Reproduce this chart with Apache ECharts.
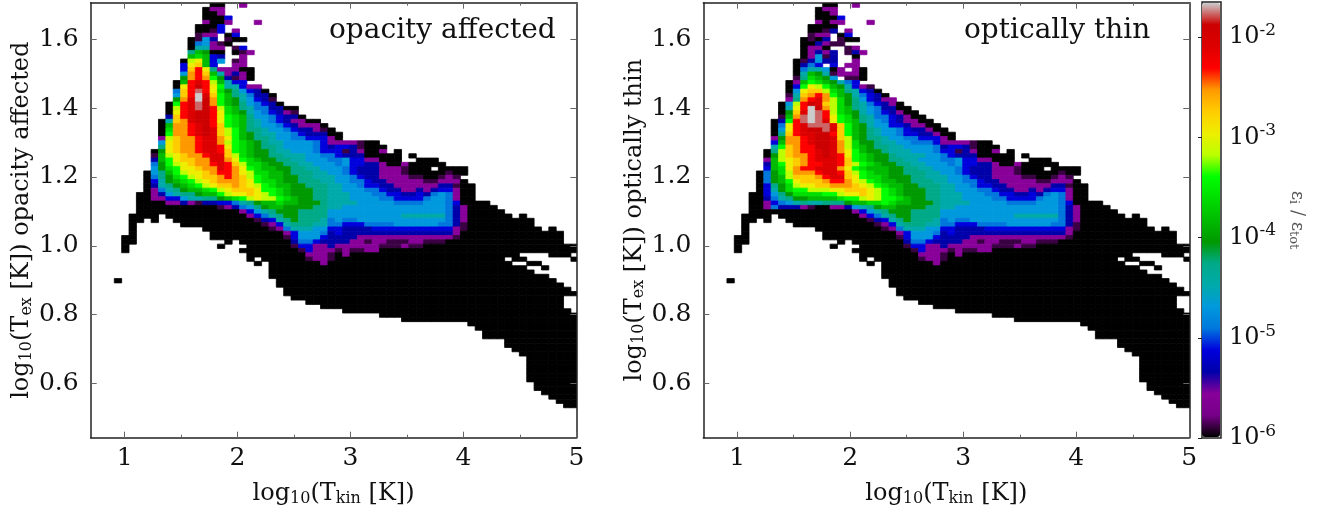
<!DOCTYPE html>
<html>
<head>
<meta charset="utf-8">
<script src="https://cdn.jsdelivr.net/npm/echarts@6/dist/echarts.min.js"></script>
<style>html,body{margin:0;background:#fff}#main{width:1323px;height:514px}</style>
</head>
<body>
<div id="main"></div>
<script>
// cell levels: . empty, 0 black ... k grey, "c*n" repeats c
const leftRows = [
'.*13 00..2','.*12 022','.*12 002','.*12 0004','.*12 2002...2','.*11 0004','.*11 00x4.2','.*11 x22.04',
'.*10 0x63.x00','.*10 0562x0','.*10 07722.x4','.*10 8a900.0x2','.*10 aba43..2','.*9 0dea46.x2','.*9 4efa4..22',
'.*9 4fhe822200','.*9 6ghfa72320','.*9 9ghgc93x20','.*8 0ahihda744','.*8 0ehjhec77422','.*8 5fhmheb986430',
'.*8 6fhkifca875330','.*8 9gikjgca97643x','.*7 0chimjgca9865430','.*7 0dhimjhdba87553300','.*7 0ehijjheba9765432x',
'.*7 3fhijjhecba86654330','.*6 07fgijjhecba8765432200','.*6 0agghijhfcba87665432220','.*6 0bgghijifdca8876654332x0',
'.*6 0cgghijifdca9877665433300','.*6 2dfgghiigeca9887665544420',
'.*6 6efgghiigdcba98776 66654 2222x 00','.*6 8efgghiihecba98876 66654 3443x 000',
'.*5 0 9efgghiihfcba99877 66654 44x32 002.0','.*5 x adefgghiifdba99887 77665 54333 00000.0',
'.*5 3 aceffggiigecba9988 77666 55644 22000 ..000','.*5 5 9cdefgghihfdbba998 87766 65644 33200 200000',
'.*5 6 9bceefggihgecbaa99 88776 66543 33222 x000.0000','.*4 0 6 8acdeefghhgedbbaa9 88877 66543 33222 x00000x00',
'.*4 0 5 89bcdeffghgfdcbaa9 98877 76654 33222 2xx00x2x.','.*4 0 4 79abcdefgggfecbba9 98887 76655 43322 222xx2220',
'.*4 0 3 789abcdeffgfedcbaa 99888 77665 44332 2222233x00','.*4 0 2 5789aabcdefffeccba 99988 77666 55433 2232344200',
'.*3 00 2 367889aacdeefedcba 99988 77766 65544 3343565200','.*3 00 2 244677889abcdeddcb a9988 77766 66554 4445665200',
'.*3 0000 2232x33445789aaba a9998 77776 66665 55566 6540000','.*3 0*11 x235689aa9 99988 77666 66666 66666 65320000'
];
const rightRows = [
'.*13 00..2','.*12 022','.*12 002','.*12 0004','.*12 2022...2','.*11 0000','.*11 00x3.2','.*11 x22.04',
'.*10 0x03.x00','.*10 0032xx','.*10 0220..x2','.*10 02323.x32','.*10 026x3..0','.*9 0x3633..2','.*9 0354.4.22',
'.*9 05776 02.20','.*9 07a97x2220','.*9 x8ba96.xx0','.*8 02acba9754','.*8 04cedca9742x','.*8 06effdba87430',
'.*8 x7fghgca975430','.*8 28ghigdb986432 2','.*7 06dhjifdb98754320','.*7 07ehkjgdba87653300','.*7 09fikmhdba9765432 00',
'.*7 xagmkmhecb98755432 00','.*6 03chmkmiecba87654322 00','.*6 05ehimmmifca976644322 00','.*6 06ehijjmifca987665433200',
'.*6 08fhiijjhfca9876654433 200','.*6 29gghijjifda98876655444 20',
'.*6 4agghijjigdb998776 65554 2222x 00','.*6 7cfghhjjigdba98877 66665 3443x 000',
'.*5 0 8dfghhijigeca99877 76665 44x32 002.0','.*5 0 9dfgghijihecba9987 77766 54333 00000.0',
'.*5 2 adefghiiihfcba9988 77666 55644 22000 ..000','.*5 3 acefghhiihfdcba998 87766 65644 33200 200000',
'.*5 4 abeghhiiigecbaaa99 88776 66543 33222 x000.0000','.*4 0 5 9bdggghiihfdcbaa99 88877 66543 33222 x00000x00',
'.*4 0 5 9adfffghiifecbba99 98877 76654 33222 2xx00x2x.','.*4 0 5 9acefffghhgedcbaa9 98887 76655 43322 222xx2220',
'.*4 0 4 89bdeeffgggfedcbaa 99888 77665 44332 2222233x00','.*4 0 4 79bccdddeefffedcba 99988 77666 55433 2232344200',
'.*3 00 4 689bbbbccdeefedcba 99988 77766 65544 3343565200','.*3 00 3 57899aaaabccdedccb a9988 77766 66554 4445665200',
'.*3 00 2 45678778889aabbcba a9998 77776 66665 55566 6540000','.*3 00 2 53332x002236789aa9 99988 77666 66666 66666 65320000'
];
const lowerRows = [
'.*3 0*14 2467899 98888 66666 66666 66666 65320 0000',
'.*2 0000. 0*11 245789 98888 66666 66666 77777 75320 00000.0',
'.*2 00.0.. 0*11 x3478 98887 56556 66666 66666 65320 0*8',
'.*2 0...... 0*11 x247 88877 55444 55556 66666 553x0 0*8',
'.*2 0 .*9 0*9 x25 77766 44333 34444 44444 442x0 0*9 .0',
'.*2 0 .*10 0*10 2 46665 34333 33333 33333 33200 0*12',
'.00 .*10 0*10 x 46664 33332 22222 22222 22x00 0*12',
'.00 .*12 0.0*7 35543 33322 x22xx x22xx x0000 0*12 ..',
'.0 .*12 0... 0*6 x4422 32222 22xxx 2xx00 0*19',
'.0 .*15 0 0*7 x422 2x2xx 22 0*27',
'.*18 0*8 222x02 0*23 .... 000.',
'.*18 0.0*6 x22x 0*23 .00...... 0',
'.*19 0.0*7 2 0*25 ..00.....',
'.*21 0*35 ..0....','.*21 0*36','.*21 0*38','0 .*21 0*38','.*22 0*39','.*23 0*39','.*23 0*40','.*24 0*37',
'.*26 0*35','.*28 0*33','.*31 0*31','.*36 0*27','.*39 0*24','.*48 0*15','.*49 0*14','.*50 0*13','.*50 0*13',
'.*53 0*10','.*53 0*10','.*54 0*9','.*55 0*8','.*56 0*7','.*56 0*7','.*56 0*7','.*56 0*7','.*56 0*7','.*56 0*7',
'.*57 0*6','.*57 0*6','.*58 0*5','.*59 0*4','.*60 0*3','.*61 0*2'
];
const spectral = ['#000000','#770088','#880099','#0000aa','#0000dd','#0077dd','#0099dd','#00aaaa','#00aa88','#009900',
'#00bb00','#00dd00','#00ff00','#bbff00','#eeee00','#ffcc00','#ff9900','#ff0000','#dd0000','#cc0000','#cccccc'];
const levelChars = '0123456789abcdefghijk';
const xTicks = [1, 2, 3, 4, 5];
const xMinor = [1.5, 2.5, 3.5, 4.5];
const yTicks = [0.6, 0.8, 1.0, 1.2, 1.4, 1.6];
const barTicks = [-6, -5, -4, -3, -2];

const binX0 = 0.909, binW = 0.0652, binY0 = 0.53, binH = 0.0125, topRow = 93;
const logMin = -6, logMax = -1.65;

function levelToLog(ch) {
    let t = levelChars.indexOf(ch) * 0.05;
    if (ch === 'x') t = 0.025;
    if (ch === 'm') t = 0.975;
    return logMin + t * (logMax - logMin);
}
function buildCells(rows) {
    const cells = [];
    rows.forEach(function (row, r) {
        const line = row.replace(/(.)\*(\d+)/g, function (m, c, n) { return c.repeat(+n); }).replace(/\s/g, '');
        for (let c = 0; c < line.length; c++) {
            if (line[c] === '.') continue;
            cells.push([binX0 + c * binW, binY0 + (topRow - r) * binH, levelToLog(line[c])]);
        }
    });
    return cells;
}
function renderCell(params, api) {
    const a = api.coord([api.value(0), api.value(1) + binH]);
    const b = api.coord([api.value(0) + binW, api.value(1)]);
    const color = api.visual('color');
    return {
        type: 'rect',
        shape: { x: a[0], y: a[1], width: b[0] - a[0], height: b[1] - a[1] },
        style: { fill: color, stroke: color, lineWidth: 0.8 }
    };
}

const serif = '"DejaVu Serif"';
const ink = '#111';
const spine = { show: true, onZero: false, lineStyle: { color: '#222', width: 1.5 } };
const tickLine = { color: '#666', width: 1 };

function xAxes(g) {
    const base = { gridIndex: g, type: 'value', min: 0.7, max: 5, splitLine: { show: false }, axisLine: spine, z: 6 };
    return [
        Object.assign({}, base, {
            position: 'bottom',
            name: 'log{s|10}(T{s|kin} [K])',
            nameLocation: 'middle', nameGap: 44,
            nameTextStyle: { fontFamily: serif, fontSize: 24, color: ink, rich: { s: { fontFamily: serif, fontSize: 16, color: ink, padding: [9, 0, 0, 0] } } },
            axisTick: { inside: true, length: 6, lineStyle: tickLine, customValues: xTicks },
            axisLabel: { margin: 8, fontFamily: serif, fontSize: 25, color: ink, customValues: xTicks, formatter: '{value}' }
        }),
        Object.assign({}, base, { position: 'top', axisLabel: { show: false }, axisTick: { inside: true, length: 6, lineStyle: tickLine, customValues: xTicks } }),
        Object.assign({}, base, { position: 'bottom', axisLine: { show: false }, axisLabel: { show: false }, axisTick: { inside: true, length: 3, lineStyle: tickLine, customValues: xMinor } }),
        Object.assign({}, base, { position: 'top', axisLine: { show: false }, axisLabel: { show: false }, axisTick: { inside: true, length: 3, lineStyle: tickLine, customValues: xMinor } })
    ];
}
function yAxes(g, label) {
    const base = { gridIndex: g, type: 'value', min: 0.443, max: 1.706, splitLine: { show: false }, axisLine: spine, z: 6 };
    return [
        Object.assign({}, base, {
            position: 'left',
            name: label,
            nameLocation: 'middle', nameGap: 56,
            nameTextStyle: { fontFamily: serif, fontSize: 24, color: ink, rich: { s: { fontFamily: serif, fontSize: 16, color: ink, padding: [9, 0, 0, 0] } } },
            axisTick: { inside: true, length: 6, lineStyle: tickLine, customValues: yTicks },
            axisLabel: { margin: 12, fontFamily: serif, fontSize: 25, color: ink, customValues: yTicks, formatter: function (v) { return v.toFixed(1); } }
        }),
        Object.assign({}, base, { position: 'right', axisLabel: { show: false }, axisTick: { inside: true, length: 6, lineStyle: tickLine, customValues: yTicks } })
    ];
}

const chart = echarts.init(document.getElementById('main'));
chart.setOption({
    animation: false,
    backgroundColor: '#fff',
    title: [
        { text: 'opacity affected', left: 329, top: 17, padding: 0, textStyle: { fontFamily: serif, fontSize: 28, fontWeight: 'normal', color: ink } },
        { text: 'optically thin', left: 964, top: 17, padding: 0, textStyle: { fontFamily: serif, fontSize: 28, fontWeight: 'normal', color: ink } }
    ],
    grid: [
        { left: 90.7, top: 2.7, width: 485.7, height: 435 },
        { left: 703.3, top: 2.7, width: 486, height: 435 },
        { left: 1202, top: 2, width: 19, height: 436, show: true, borderColor: '#222', borderWidth: 1.5, backgroundColor: 'transparent' }
    ],
    xAxis: xAxes(0).concat(xAxes(1), [{ gridIndex: 2, type: 'value', min: 0, max: 1, show: false }]),
    yAxis: yAxes(0, 'log{s|10}(T{s|ex} [K]) opacity affected').concat(yAxes(1, 'log{s|10}(T{s|ex} [K]) optically thin'), [{
        gridIndex: 2, type: 'value', min: logMin, max: logMax, position: 'right', z: 6,
        splitLine: { show: false },
        axisLine: { show: false },
        name: '{e|\u03b5}{s|i}{e| / \u03b5}{s|tot}',
        nameLocation: 'middle', nameRotate: -90, nameGap: 66,
        nameTextStyle: { color: '#555', rich: {
            e: { fontFamily: serif, fontSize: 18, color: '#555' },
            s: { fontFamily: serif, fontSize: 13, color: '#555', padding: [7, 0, 0, 0] }
        } },
        axisTick: { inside: true, length: 4, lineStyle: { color: '#222', width: 1 }, customValues: barTicks },
        axisLabel: {
            margin: 8, customValues: barTicks,
            formatter: function (v) { return '{b|10}{p|' + v + '}'; },
            rich: {
                b: { fontFamily: serif, fontSize: 24, color: ink },
                p: { fontFamily: serif, fontSize: 17, color: ink, padding: [0, 0, 13, 0] }
            }
        }
    }]),
    visualMap: {
        type: 'continuous', seriesIndex: [0, 1], dimension: 2,
        min: logMin, max: logMax, left: 1202, top: 3, padding: 0,
        itemWidth: 18, itemHeight: 434, text: ['', ''], showLabel: false, calculable: false, hoverLink: false, align: 'left',
        inRange: { color: spectral }
    },
    series: [
        { type: 'custom', xAxisIndex: 0, yAxisIndex: 0, clip: true, renderItem: renderCell, encode: { x: 0, y: 1 }, data: buildCells(leftRows.concat(lowerRows)) },
        { type: 'custom', xAxisIndex: 4, yAxisIndex: 2, clip: true, renderItem: renderCell, encode: { x: 0, y: 1 }, data: buildCells(rightRows.concat(lowerRows)) }
    ]
});
</script>
</body>
</html>
